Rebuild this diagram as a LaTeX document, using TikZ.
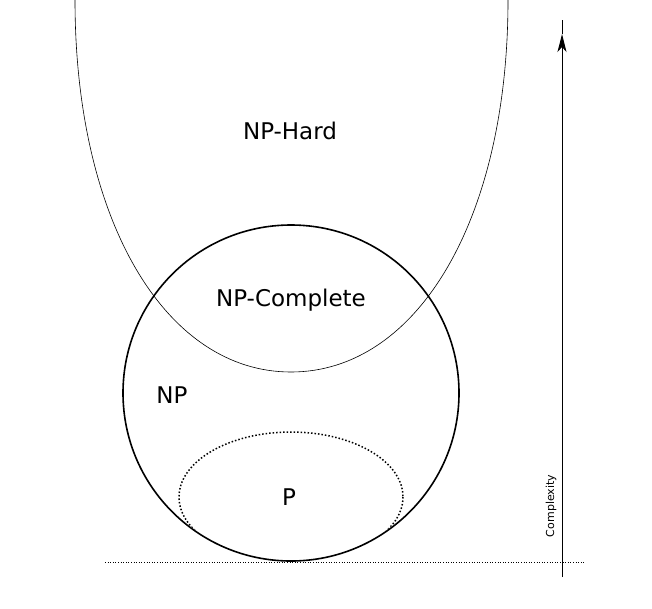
\documentclass[tikz,border=0pt]{standalone}
\usepackage{fontspec}
\setmainfont{DejaVu Sans}
\usetikzlibrary{arrows.meta}
\begin{document}
\begin{tikzpicture}[x=1pt,y=-1pt,lbl/.style={font=\fontsize{23}{27}\selectfont}]
\useasboundingbox (0,0) rectangle (652,608);
\draw[line width=0.6pt] (75,0) .. controls (75,220) and (165,372) .. (291,372)
  .. controls (417,372) and (508,220) .. (508,0);
\draw[line width=1.6pt] (291,393) circle[radius=168];
\begin{scope}
\clip (291,393) circle[radius=167];
\draw[line width=1.5pt, dotted] (291,497) ellipse[x radius=112, y radius=65];
\end{scope}
\draw[dotted, line width=0.6pt] (105,562) -- (585,562);
\coordinate (abot) at (562,577);
\coordinate (amid) at (562,34);
\coordinate (atop) at (562,20);
\draw[line width=1pt,-{Stealth[length=18pt,width=9pt,inset=5pt]}] (abot) -- (amid);
\draw[line width=1pt] (amid) -- (atop);
\node[lbl] (hard) at (290,131) {NP-Hard};
\node[lbl] (comp) at (291,300) {NP-Complete};
\node[lbl] (np) at (172,395) {NP};
\node[lbl] (p) at (289,497) {P};
\node[rotate=90,font=\fontsize{11}{13}\selectfont] (cx) at (551,506) {Complexity};
\end{tikzpicture}
\end{document}
